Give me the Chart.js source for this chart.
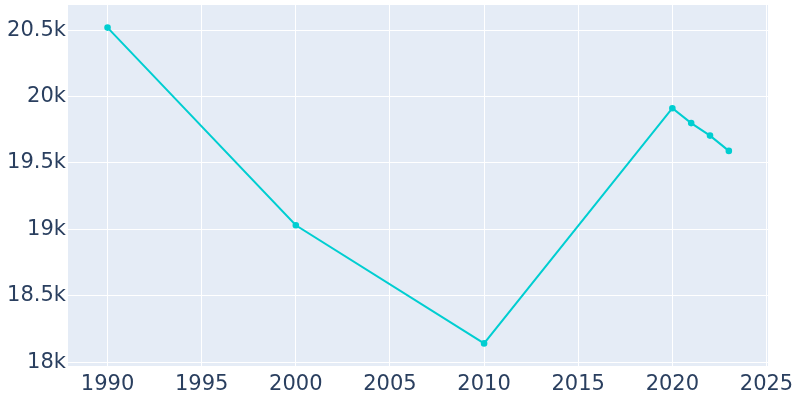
<!DOCTYPE html>
<html>
<head>
<meta charset="utf-8">
<script src="https://cdn.jsdelivr.net/npm/chart.js@4/dist/chart.umd.min.js"></script>
<style>
  html, body { margin: 0; padding: 0; background: #fff; }
  #wrap { width: 800px; height: 400px; }
</style>
</head>
<body>
<div id="wrap"><canvas id="popChart"></canvas></div>
<script>
var years = [1990, 2000, 2010, 2020, 2021, 2022, 2023];
var population = [20519, 19031, 18142, 19912, 19800, 19706, 19591];
var xTicks = [1990, 1995, 2000, 2005, 2010, 2015, 2020, 2025];
var yTicks = [18000, 18500, 19000, 19500, 20000, 20500];

// plot background, plotly style
var plotBg = {
  id: "plotBg",
  beforeDraw: function (chart) {
    var a = chart.chartArea, ctx = chart.ctx;
    ctx.save();
    ctx.fillStyle = "#E5ECF6";
    ctx.fillRect(a.left, a.top, a.right - a.left, a.bottom - a.top);
    ctx.restore();
  }
};

function noPad(s) {
  s.paddingTop = 0; s.paddingBottom = 0; s.paddingLeft = 0; s.paddingRight = 0;
}

new Chart("popChart", {
  type: "line",
  data: {
    datasets: [{
      data: years.map(function (y, i) { return { x: y, y: population[i] }; }),
      borderColor: "#00CED1",
      backgroundColor: "#00CED1",
      borderWidth: 2,
      pointRadius: 2.3,
      pointHoverRadius: 3,
      tension: 0,
      fill: false
    }]
  },
  options: {
    responsive: true,
    maintainAspectRatio: false,
    animation: false,
    layout: { padding: { top: 3, right: 32, left: 0, bottom: 0 } },
    plugins: { legend: { display: false }, tooltip: { enabled: false } },
    scales: {
      x: {
        type: "linear",
        min: 1987.9,
        max: 2025.08,
        afterBuildTicks: function (s) { s.ticks = xTicks.map(function (v) { return { value: v }; }); },
        afterFit: function (s) { s.height = 34; noPad(s); },
        grid: { color: "#ffffff", lineWidth: 1, drawTicks: false },
        border: { display: false },
        ticks: {
          color: "#2a3f5f",
          font: { family: "'DejaVu Sans', sans-serif", size: 21 },
          padding: 6,
          maxRotation: 0,
          autoSkip: false,
          callback: function (v) { return String(v); }
        }
      },
      y: {
        min: 17972,
        max: 20689,
        afterBuildTicks: function (s) { s.ticks = yTicks.map(function (v) { return { value: v }; }); },
        afterFit: function (s) { s.width = 68; noPad(s); },
        grid: { color: "#ffffff", lineWidth: 1, drawTicks: false },
        border: { display: false },
        ticks: {
          color: "#2a3f5f",
          font: { family: "'DejaVu Sans', sans-serif", size: 21 },
          padding: 2,
          autoSkip: false,
          callback: function (v) { return (v / 1000) + "k"; }
        }
      }
    }
  },
  plugins: [plotBg]
});
</script>
</body>
</html>
